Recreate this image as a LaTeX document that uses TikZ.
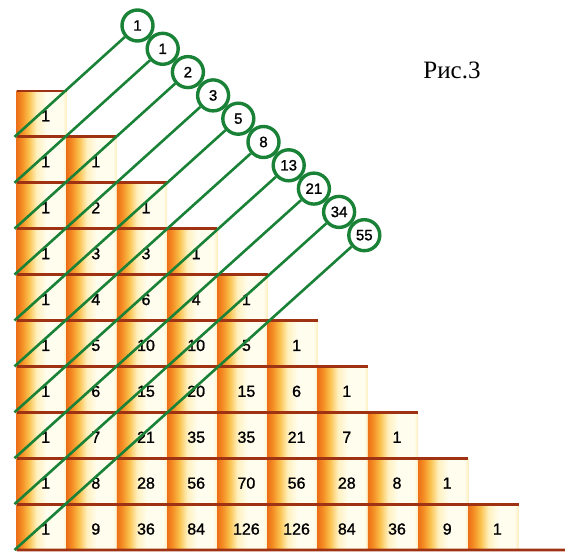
\documentclass[tikz,border=0pt]{standalone}
\usepackage{fontspec}
\setmainfont{Liberation Serif}
\newfontfamily\numfont[FakeBold=1.2]{Liberation Sans}
\usepackage{xcolor}
\usetikzlibrary{positioning}

\definecolor{fibgreen}{RGB}{25,130,55}
\definecolor{brickline}{RGB}{160,50,20}
\definecolor{brickdeep}{RGB}{236,112,25}
\definecolor{brickedge}{RGB}{244,140,35}
\definecolor{brickmid}{RGB}{250,192,75}
\definecolor{brickpale}{RGB}{255,240,190}
\definecolor{brickwhite}{RGB}{255,253,238}
\definecolor{bricktint}{RGB}{253,238,190}
\pgfdeclarehorizontalshading{brickshade}{100bp}{color(0bp)=(brickdeep); color(25bp)=(brickdeep); color(30bp)=(brickedge); color(37bp)=(brickmid); color(45bp)=(brickpale); color(55bp)=(brickwhite); color(71bp)=(brickwhite); color(75bp)=(bricktint); color(100bp)=(bricktint)}

\begin{document}
\begin{tikzpicture}[x=1pt, y=-1pt,
    brick/.style={rectangle,inner sep=0pt,outer sep=0pt,minimum width=50.2pt,minimum height=45.9pt,anchor=north west,shading=brickshade},
    num/.style={inner sep=0pt,font=\numfont\fontsize{16}{16}\selectfont},
    fib/.style={circle,draw=fibgreen,line width=3.4pt,fill=white,inner sep=0pt,minimum size=31pt,font=\numfont\fontsize{15}{15}\selectfont},
    diag/.style={fibgreen,line width=2.6pt},
    rowline/.style={brickline,line width=2.8pt}]
    \useasboundingbox (0,0) rectangle (565,556);

    % rows of the triangle
    \foreach \r/\vals in {0/{1},1/{1,1},2/{1,2,1},3/{1,3,3,1},4/{1,4,6,4,1},5/{1,5,10,10,5,1},6/{1,6,15,20,15,6,1},7/{1,7,21,35,35,21,7,1},8/{1,8,28,56,70,56,28,8,1},9/{1,9,36,84,126,126,84,36,9,1}}{
        \foreach \v [count=\c from 0] in \vals {
            \node[brick] (b\r-\c) at ({16.5+50.2*\c},{91+45.9*\r}) {};
            \node[num] (v\r-\c) at ([xshift=4pt,yshift=-2pt]b\r-\c.center) {\v};
        }
        \draw[rowline] (b\r-0.north west) -- (b\r-\r.north east);
    }
    \coordinate (edge) at (565,550);
    \draw[rowline] (b9-0.south west) -- (edge);

    % Fibonacci circles and diagonals
    \foreach \v [count=\i from 0] in {1,1,2,3,5,8,13,21,34,55}
        \node[fib] (f\i) at ({137.5+25.2*\i},{25.5+23.3*\i}) {\v};
    \foreach \i in {0,...,9}
        \draw[diag] ([xshift=-2pt]b\i-0.south west) -- (f\i);

    \node[font=\fontsize{25}{25}\selectfont] (caption) at (452,70) {Рис.3};
\end{tikzpicture}
\end{document}
